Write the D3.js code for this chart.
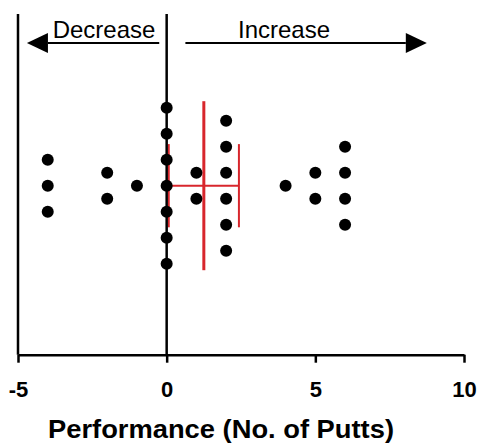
<!DOCTYPE html>
<html>
<head>
<meta charset="utf-8">
<script src="https://cdn.jsdelivr.net/npm/d3@7"></script>
<style>
body { margin: 0; background: #fff; }
</style>
</head>
<body>
<div id="plot"></div>
<script>
// change in putts per player, grouped by value (one dot per player)
const values = [-4, -2, -1, 0, 1, 2, 4, 5, 6];
const counts = [3, 2, 1, 7, 2, 6, 1, 2, 4];

// mean with 95% CI
const mean = 1.25;
const ciLow = 0.07;
const ciHigh = 2.43;

const xTicks = [-5, 0, 5, 10];
const xTitle = "Performance (No. of Putts)";

// arrows on top, in putts
const arrowLabels = ["Decrease", "Increase"];
const arrowFrom = [-0.25, 0.63];
const arrowTo = [-4.7, 8.75];

const width = 479, height = 445;

const svg = d3.select("#plot")
.append("svg")
.attr("width", width)
.attr("height", height);

const x = d3.scaleLinear()
.domain([-5, 10])
.range([18, 464]);

// rows of stacked dots
const y = d3.scaleLinear()
.domain([-6.5, 6.5])
.range([354.7, 16.7]);

const points = [];
values.forEach((v, i) => {
	for (let k = 0; k < counts[i]; k++) {
		points.push({value: v, row: k - (counts[i] - 1) / 2});
	}
});

const red = "#d8262c";

// error bar (95% CI) behind the dots
svg.append("line")
.attr("x1", x(ciLow)).attr("x2", x(ciHigh))
.attr("y1", y(0)).attr("y2", y(0))
.attr("stroke", red).attr("stroke-width", 2);

[ciLow, ciHigh].forEach(v => {
	svg.append("line")
	.attr("x1", x(v)).attr("x2", x(v))
	.attr("y1", y(1.6)).attr("y2", y(-1.6))
	.attr("stroke", red).attr("stroke-width", 2);
});

svg.append("line")
.attr("x1", x(mean)).attr("x2", x(mean))
.attr("y1", y(3.25)).attr("y2", y(-3.25))
.attr("stroke", red).attr("stroke-width", 3);

// y axis at -5 and the zero line
[-5, 0].forEach(v => {
	svg.append("line")
	.attr("x1", x(v)).attr("x2", x(v))
	.attr("y1", 14).attr("y2", y(-6.5))
	.attr("stroke", "#000").attr("stroke-width", 2.5);
});

svg.selectAll("circle")
.data(points)
.join("circle")
.attr("cx", d => x(d.value))
.attr("cy", d => y(d.row))
.attr("r", 6)
.attr("fill", "#000");

// x axis
const xAxis = svg.append("g")
.attr("transform", `translate(0, ${y(-6.5)})`)
.call(d3.axisBottom(x)
	.tickValues(xTicks)
	.tickFormat(d => String(d))
	.tickSize(8).tickSizeOuter(0).tickPadding(19));

xAxis.select(".domain").attr("stroke", "#000").attr("stroke-width", 2.5);
xAxis.selectAll(".tick line").attr("stroke", "#000").attr("stroke-width", 2.5);
xAxis.selectAll("text")
.attr("fill", "#000")
.style("font-family", "'Liberation Sans', Arial, sans-serif")
.style("font-weight", "bold")
.style("font-size", "22px");

svg.append("text")
.attr("x", 221)
.attr("y", 438)
.attr("text-anchor", "middle")
.attr("textLength", 346)
.attr("lengthAdjust", "spacingAndGlyphs")
.style("font-family", "'Liberation Sans', Arial, sans-serif")
.style("font-weight", "bold")
.style("font-size", "26px")
.text(xTitle);

// arrows
arrowLabels.forEach((label, i) => {
	const x0 = x(arrowFrom[i]), x1 = x(arrowTo[i]);
	const dir = x1 > x0 ? 1 : -1;
	const headLen = 21, headHalf = 10, yy = 43;
	svg.append("line")
	.attr("x1", x0).attr("x2", x1 - dir * headLen)
	.attr("y1", yy).attr("y2", yy)
	.attr("stroke", "#000").attr("stroke-width", 2);
	svg.append("path")
	.attr("d", `M${x1},${yy} L${x1 - dir * headLen},${yy - headHalf} L${x1 - dir * headLen},${yy + headHalf} Z`)
	.attr("fill", "#000");
});

svg.append("text")
.attr("x", 104).attr("y", 38)
.attr("text-anchor", "middle")
.style("font-family", "'Liberation Sans', Arial, sans-serif")
.style("font-size", "24px")
.text(arrowLabels[0]);

svg.append("text")
.attr("x", 284).attr("y", 38)
.attr("text-anchor", "middle")
.style("font-family", "'Liberation Sans', Arial, sans-serif")
.style("font-size", "24px")
.text(arrowLabels[1]);
</script>
</body>
</html>
